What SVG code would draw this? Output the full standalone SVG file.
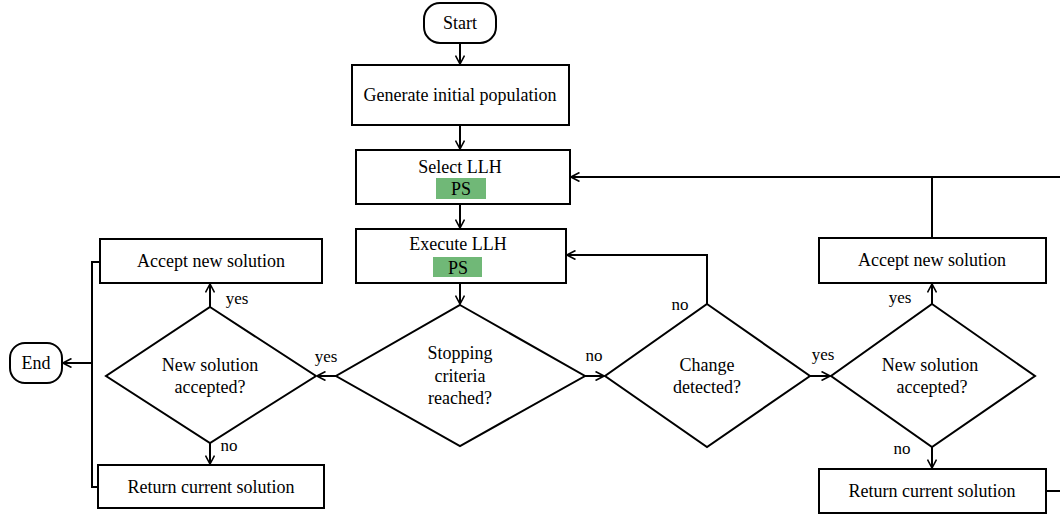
<svg xmlns="http://www.w3.org/2000/svg" width="1060" height="516" viewBox="0 0 1060 516">
<defs>
<marker id="arr" viewBox="0 0 10 10" refX="9.5" refY="5" markerWidth="10" markerHeight="10" markerUnits="userSpaceOnUse" orient="auto">
<path d="M1,0.5 L9.5,5 L1,9.5" fill="none" stroke="#000" stroke-width="1.6"/>
</marker>
<style>
.box{fill:#fff;stroke:#000;stroke-width:2}
.ps{fill:#70b877;stroke:none}
.ln{fill:none;stroke:#000;stroke-width:2}
.ar{fill:none;stroke:#000;stroke-width:2;marker-end:url(#arr)}
text{font-family:"Liberation Serif","Times New Roman",serif;font-size:18px;fill:#000;text-anchor:middle}
.lbl{font-size:17px}
</style>
</defs>
<rect width="1060" height="516" fill="#fff"/>
<g id="start"><rect class="box" x="424" y="3" width="72" height="40" rx="16"/><text x="460" y="29">Start</text></g>
<g id="generate"><rect class="box" x="352" y="65" width="217" height="60"/><text x="460" y="101">Generate initial population</text></g>
<g id="select"><rect class="box" x="356" y="150" width="214" height="54"/><text x="460" y="173">Select LLH</text><rect class="ps" x="436" y="178" width="50" height="21"/><text x="461" y="195">PS</text></g>
<g id="execute"><rect class="box" x="356" y="229" width="210" height="54"/><text x="458" y="250">Execute LLH</text><rect class="ps" x="433" y="257" width="49" height="20"/><text x="458" y="274">PS</text></g>
<g id="stopping"><polygon class="box" points="460,305 585,376 460,446 336,376"/><text x="460" y="359">Stopping</text><text x="460" y="382">criteria</text><text x="460" y="404">reached?</text></g>
<g id="change"><polygon class="box" points="707,304 810,376 707,447 605,376"/><text x="707" y="371">Change</text><text x="707" y="393">detected?</text></g>
<g id="newsolR"><polygon class="box" points="932,304 1035,376 932,447 831,376"/><text x="930" y="371">New solution</text><text x="932" y="393">accepted?</text></g>
<g id="acceptR"><rect class="box" x="819" y="238" width="227" height="45"/><text x="932" y="266">Accept new solution</text></g>
<g id="returnR"><rect class="box" x="819" y="469" width="227" height="44"/><text x="932" y="497">Return current solution</text></g>
<g id="newsolL"><polygon class="box" points="210,307 316,376 210,443 106,376"/><text x="210" y="371">New solution</text><text x="210" y="393">accepted?</text></g>
<g id="acceptL"><rect class="box" x="100" y="239" width="222" height="44"/><text x="211" y="267">Accept new solution</text></g>
<g id="returnL"><rect class="box" x="98" y="465" width="226" height="43"/><text x="211" y="493">Return current solution</text></g>
<g id="end"><rect class="box" x="10" y="343" width="52" height="40" rx="15"/><text x="36" y="369">End</text></g>
<g id="connectors">
<line class="ar" x1="460" y1="43" x2="460" y2="64"/>
<line class="ar" x1="460" y1="125" x2="460" y2="149"/>
<line class="ar" x1="460" y1="204" x2="460" y2="228"/>
<line class="ar" x1="460" y1="283" x2="460" y2="304"/>
<line class="ar" x1="336" y1="376" x2="317" y2="376"/>
<line class="ar" x1="585" y1="376" x2="604" y2="376"/>
<line class="ar" x1="810" y1="376" x2="830" y2="376"/>
<line class="ar" x1="210" y1="307" x2="210" y2="284"/>
<line class="ar" x1="210" y1="443" x2="210" y2="464"/>
<line class="ar" x1="932" y1="304" x2="932" y2="284"/>
<line class="ar" x1="932" y1="447" x2="932" y2="468"/>
<polyline class="ar" points="707,304 707,255 567,255"/>
<polyline class="ln" points="932,238 932,177"/>
<polyline class="ar" points="1060,177 571,177"/>
<line class="ln" x1="1046" y1="491" x2="1060" y2="491"/>
<polyline class="ln" points="100,262 92,262 92,487 98,487"/>
<line class="ar" x1="92" y1="363" x2="63" y2="363"/>
<text class="lbl" x="326" y="362">yes</text>
<text class="lbl" x="594" y="361">no</text>
<text class="lbl" x="823" y="360">yes</text>
<text class="lbl" x="680" y="310">no</text>
<text class="lbl" x="237" y="304">yes</text>
<text class="lbl" x="229" y="451">no</text>
<text class="lbl" x="900" y="303">yes</text>
<text class="lbl" x="902" y="454">no</text>
</g>
</svg>
